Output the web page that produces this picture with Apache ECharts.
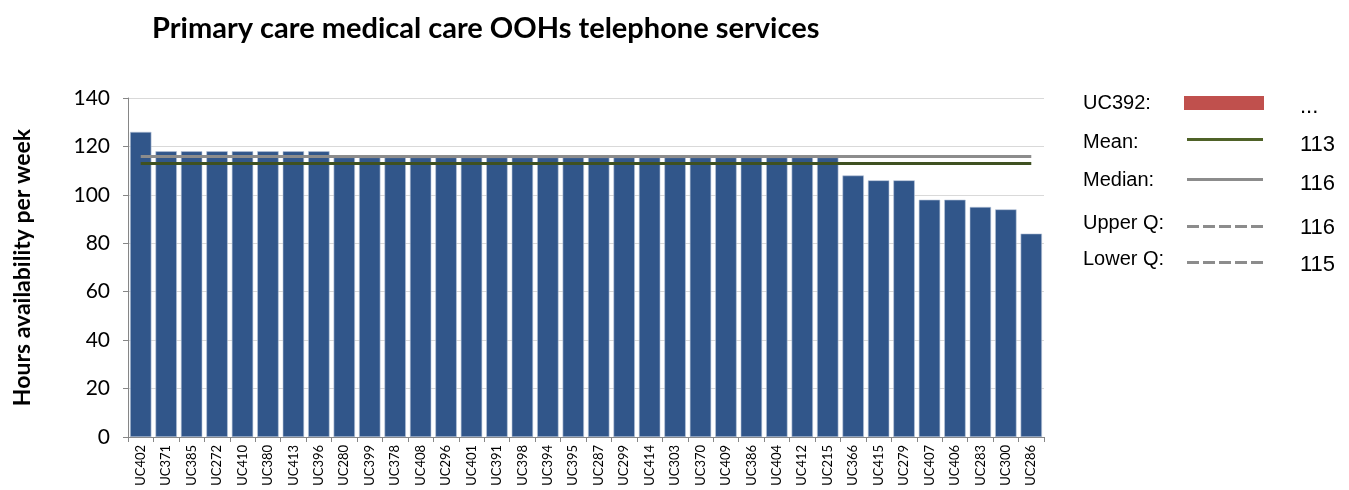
<!DOCTYPE html>
<html>
<head>
<meta charset="utf-8">
<script src="https://cdn.jsdelivr.net/npm/echarts@6/dist/echarts.min.js"></script>
<style>
  html, body { margin: 0; padding: 0; background: #fff; }
  #chart { width: 1349px; height: 490px; }
</style>
</head>
<body>
<div id="chart"></div>
<script>
// Services, sorted by weekly hours of availability
const categories = [
  'UC402', 'UC371', 'UC385', 'UC272', 'UC410', 'UC380', 'UC413', 'UC396',
  'UC280', 'UC399', 'UC378', 'UC408', 'UC296', 'UC401', 'UC391', 'UC398',
  'UC394', 'UC395', 'UC287', 'UC299', 'UC414', 'UC303', 'UC370', 'UC409',
  'UC386', 'UC404', 'UC412', 'UC215', 'UC366', 'UC415', 'UC279', 'UC407',
  'UC406', 'UC283', 'UC300', 'UC286'
];
const hours = [
  126, 118, 118, 118, 118, 118, 118, 118,
  115.5, 115.5, 115.5, 115.5, 115.5, 115.5, 115.5, 115.5,
  115.5, 115.5, 115.5, 115.5, 115.5, 115.5, 115.5, 115.5,
  115.5, 115.5, 115.5, 115.5, 108, 106, 106, 98,
  98, 95, 94, 84
];
const yTicks = [0, 20, 40, 60, 80, 100, 120, 140];

// Summary statistics shown as reference lines and in the key
const meanValue = 113;
const medianValue = 116;
const statLabels = ['UC392:', 'Mean:', 'Median:', 'Upper Q:', 'Lower Q:'];
const statValues = ['...', '113', '116', '116', '115'];

const BODY_FONT = 'Lato, "Open Sans", sans-serif';
const KEY_FONT = '"Liberation Sans", Arial, sans-serif';
const chart = echarts.init(document.getElementById('chart'), null, { renderer: 'canvas' });

const firstCat = categories[0];
const lastCat = categories[categories.length - 1];

// Key on the right-hand side: label, swatch, value
const labelY = [103, 142, 180, 223, 259];
const valueY = [107, 145, 184, 228, 265];
const graphic = [];
statLabels.forEach((label, i) => {
  graphic.push({
    type: 'text', x: 1083, y: labelY[i],
    style: { text: label, font: '20px ' + KEY_FONT, fill: '#000', verticalAlign: 'middle' }
  });
  graphic.push({
    type: 'text', x: 1300, y: valueY[i],
    style: { text: statValues[i], font: '22px ' + KEY_FONT, fill: '#000', verticalAlign: 'middle' }
  });
});
graphic.push({ type: 'rect', shape: { x: 1184, y: 96, width: 80, height: 14 }, style: { fill: '#c0504d' } });
graphic.push({ type: 'line', shape: { x1: 1187, y1: 139.5, x2: 1263, y2: 139.5 }, style: { stroke: '#4f6228', lineWidth: 3 } });
graphic.push({ type: 'line', shape: { x1: 1187, y1: 179.5, x2: 1263, y2: 179.5 }, style: { stroke: '#8c8c8c', lineWidth: 3 } });
graphic.push({ type: 'line', shape: { x1: 1187, y1: 226.5, x2: 1263, y2: 226.5 }, style: { stroke: '#8c8c8c', lineWidth: 3, lineDash: [12, 4] } });
graphic.push({ type: 'line', shape: { x1: 1187, y1: 262.5, x2: 1263, y2: 262.5 }, style: { stroke: '#8c8c8c', lineWidth: 3, lineDash: [12, 4] } });

chart.setOption({
  animation: false,
  backgroundColor: '#fff',
  title: {
    text: 'Primary care medical care OOHs telephone services',
    left: 147, top: 9,
    textStyle: { fontFamily: BODY_FONT, fontWeight: 'bold', fontSize: 29, color: '#000' }
  },
  grid: { left: 128, right: 305, top: 98, bottom: 53, containLabel: false },
  xAxis: {
    type: 'category',
    data: categories,
    axisLine: { show: true, lineStyle: { color: '#868686', width: 1 } },
    axisTick: { show: true, length: 5, lineStyle: { color: '#868686' } },
    axisLabel: { rotate: 90, fontFamily: BODY_FONT, fontSize: 13, color: '#000', margin: 8, interval: 0 }
  },
  yAxis: {
    type: 'value',
    min: yTicks[0], max: yTicks[yTicks.length - 1], interval: 20,
    name: 'Hours availability per week',
    nameLocation: 'middle', nameGap: 94, nameRotate: 90,
    nameTextStyle: { fontFamily: BODY_FONT, fontWeight: 'bold', fontSize: 23, color: '#000' },
    axisLine: { show: true, lineStyle: { color: '#868686', width: 1 } },
    axisTick: { show: true, length: 5, lineStyle: { color: '#868686' } },
    axisLabel: { fontFamily: BODY_FONT, fontSize: 21, color: '#000', margin: 18 },
    splitLine: { show: true, lineStyle: { color: '#d9d9d9', width: 1 } }
  },
  series: [{
    type: 'bar',
    data: hours,
    barCategoryGap: '16%',
    itemStyle: { color: '#31568a', borderColor: '#b8c6da', borderWidth: 0.6 },
    markLine: {
      symbol: 'none',
      silent: true,
      label: { show: false },
      data: [
        [
          { coord: [firstCat, medianValue], lineStyle: { color: '#8c8c8c', width: 3, type: 'solid' } },
          { coord: [lastCat, medianValue] }
        ],
        [
          { coord: [firstCat, meanValue], lineStyle: { color: '#3f5121', width: 3, type: 'solid' } },
          { coord: [lastCat, meanValue] }
        ]
      ]
    }
  }],
  graphic: graphic
});
</script>
</body>
</html>
